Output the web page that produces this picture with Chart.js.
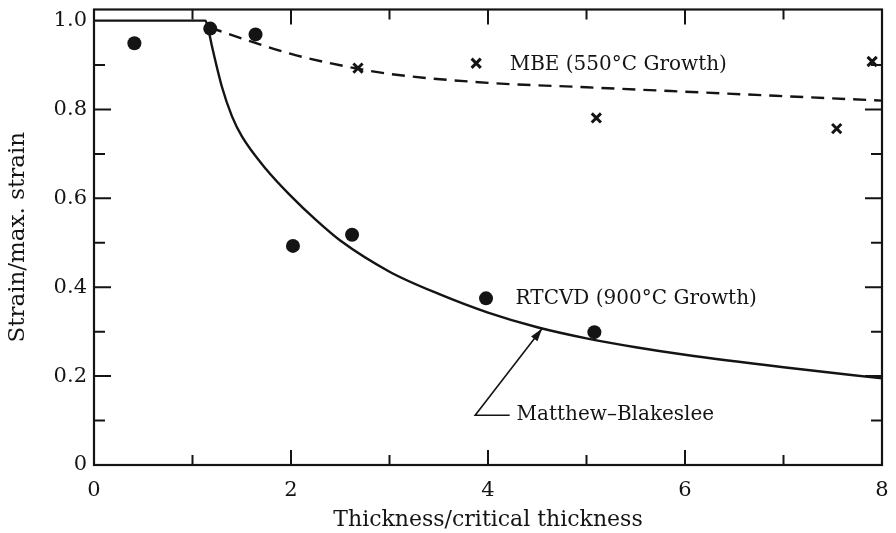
<!DOCTYPE html>
<html>
<head>
<meta charset="utf-8">
<script src="https://cdn.jsdelivr.net/npm/chart.js@4.4.1/dist/chart.umd.min.js"></script>
<style>
  html, body { margin: 0; padding: 0; background: #ffffff; }
  #wrap { width: 896px; height: 533px; }
</style>
</head>
<body>
<div id="wrap"><canvas id="c" width="896" height="533"></canvas></div>
<script>
// Matthews–Blakeslee equilibrium curve (strain ratio vs. thickness ratio)
const mbRatio  = [0, 1.13, 1.15, 1.2, 1.3, 1.4, 1.5, 1.75, 2.0, 2.25, 2.5, 3.0, 3.5, 4.0, 4.5, 5.0, 5.5, 6.0, 7.0, 8.0];
const mbStrain = [1.0, 1.0, 0.99, 0.94, 0.85, 0.785, 0.74, 0.665, 0.605, 0.552, 0.505, 0.435, 0.385, 0.343, 0.31, 0.285, 0.265, 0.248, 0.22, 0.195];

// dashed trend through the MBE samples
const mbeFitRatio  = [1.17, 1.5, 2.0, 2.6, 3.0, 4.0, 5.0, 6.0, 7.0, 8.0];
const mbeFitStrain = [0.985, 0.96, 0.925, 0.895, 0.88, 0.86, 0.85, 0.84, 0.83, 0.82];

// RTCVD (900 °C growth) samples
const rtcvdRatio  = [0.41, 1.18, 1.64, 2.02, 2.62, 3.98, 5.08];
const rtcvdStrain = [0.949, 0.982, 0.969, 0.493, 0.518, 0.375, 0.299];

// MBE (550 °C growth) samples
const mbeRatio  = [2.68, 3.88, 5.10, 7.54, 7.90];
const mbeStrain = [0.893, 0.904, 0.781, 0.757, 0.908];

// axis tick labels
const xTickValues = [0, 2, 4, 6, 8];
const xTickLabels = ['0', '2', '4', '6', '8'];
const yTickValues = [0, 0.2, 0.4, 0.6, 0.8, 1.0];
const yTickLabels = ['0', '0.2', '0.4', '0.6', '0.8', '1.0'];

// inward tick marks
const xMajorMarks = [2, 4, 6];
const xMinorMarks = [1, 3, 5, 7];
const yMajorMarks = [0.2, 0.4, 0.6, 0.8];
const yMinorMarks = [0.1, 0.3, 0.5, 0.7, 0.9];

const toPoints = (xs, ys) => xs.map((x, i) => ({ x: x, y: ys[i] }));
const INK = '#141414';
const FONT = '"DejaVu Serif", "Liberation Serif", serif';

const labelFor = (values, labels) => (v) => {
  const i = values.findIndex(t => Math.abs(t - v) < 1e-6);
  return i >= 0 ? labels[i] : '';
};

// frame, inward ticks and the curve annotations
const framePlugin = {
  id: 'frame',
  afterDatasetsDraw(chart) {
    const { ctx, chartArea: a, scales } = chart;
    const xs = scales.x, ys = scales.y;
    ctx.save();
    ctx.strokeStyle = INK;
    ctx.lineWidth = 2.2;
    ctx.strokeRect(a.left, a.top, a.right - a.left, a.bottom - a.top);

    ctx.lineWidth = 2;
    ctx.beginPath();
    const xMark = (v, len) => {
      const px = xs.getPixelForValue(v);
      ctx.moveTo(px, a.bottom); ctx.lineTo(px, a.bottom - len);
      ctx.moveTo(px, a.top); ctx.lineTo(px, a.top + len);
    };
    const yMark = (v, len) => {
      const py = ys.getPixelForValue(v);
      ctx.moveTo(a.left, py); ctx.lineTo(a.left + len, py);
      ctx.moveTo(a.right, py); ctx.lineTo(a.right - len, py);
    };
    xMajorMarks.forEach(v => xMark(v, 15));
    xMinorMarks.forEach(v => xMark(v, 10));
    yMajorMarks.forEach(v => yMark(v, 17));
    yMinorMarks.forEach(v => yMark(v, 11));
    ctx.stroke();

    // text labels
    ctx.fillStyle = INK;
    ctx.font = '20px ' + FONT;
    ctx.textAlign = 'left';
    ctx.textBaseline = 'middle';
    ctx.fillText('MBE (550\u00B0C Growth)', xs.getPixelForValue(4.22), ys.getPixelForValue(0.9));
    ctx.fillText('RTCVD (900\u00B0C Growth)', xs.getPixelForValue(4.28), ys.getPixelForValue(0.373));
    ctx.fillText('Matthew\u2013Blakeslee', xs.getPixelForValue(4.29), ys.getPixelForValue(0.112));

    // leader with arrowhead pointing at the M-B curve
    const ex = xs.getPixelForValue(4.22), ey = ys.getPixelForValue(0.112);
    const kx = xs.getPixelForValue(3.87), ky = ey;
    const tx = xs.getPixelForValue(4.55), ty = ys.getPixelForValue(0.307);
    ctx.lineWidth = 1.6;
    ctx.beginPath();
    ctx.moveTo(ex, ey); ctx.lineTo(kx, ky); ctx.lineTo(tx, ty);
    ctx.stroke();
    const ang = Math.atan2(ty - ky, tx - kx);
    const L = 13, W = 4;
    ctx.beginPath();
    ctx.moveTo(tx, ty);
    ctx.lineTo(tx - L * Math.cos(ang) + W * Math.sin(ang), ty - L * Math.sin(ang) - W * Math.cos(ang));
    ctx.lineTo(tx - L * Math.cos(ang) - W * Math.sin(ang), ty - L * Math.sin(ang) + W * Math.cos(ang));
    ctx.closePath();
    ctx.fill();
    ctx.restore();
  }
};

new Chart(document.getElementById('c'), {
  type: 'scatter',
  data: {
    datasets: [
      {
        label: 'Matthew–Blakeslee',
        data: toPoints(mbRatio, mbStrain),
        showLine: true,
        borderColor: INK,
        borderWidth: 2.4,
        pointRadius: 0,
        cubicInterpolationMode: 'monotone',
        fill: false
      },
      {
        label: 'MBE trend',
        data: toPoints(mbeFitRatio, mbeFitStrain),
        showLine: true,
        borderColor: INK,
        borderWidth: 2.4,
        borderDash: [13, 8],
        pointRadius: 0,
        cubicInterpolationMode: 'monotone',
        fill: false
      },
      {
        label: 'RTCVD (900°C Growth)',
        data: toPoints(rtcvdRatio, rtcvdStrain),
        showLine: false,
        pointStyle: 'circle',
        pointRadius: 7,
        backgroundColor: INK,
        borderColor: INK,
        borderWidth: 0,
        clip: false
      },
      {
        label: 'MBE (550°C Growth)',
        data: toPoints(mbeRatio, mbeStrain),
        showLine: false,
        pointStyle: 'crossRot',
        pointRadius: 6.5,
        borderColor: INK,
        borderWidth: 3,
        clip: false
      }
    ]
  },
  options: {
    responsive: false,
    animation: false,
    devicePixelRatio: 1,
    layout: { padding: { top: 6, right: 14, left: 0, bottom: 0 } },
    plugins: { legend: { display: false }, tooltip: { enabled: false } },
    scales: {
      x: {
        type: 'linear',
        min: 0, max: 8,
        grid: { display: false, drawTicks: false },
        border: { display: false },
        afterBuildTicks(scale) { scale.ticks = xTickValues.map(v => ({ value: v })); },
        ticks: {
          autoSkip: false,
          maxRotation: 0,
          padding: 13,
          color: INK,
          font: { family: FONT, size: 21 },
          callback: labelFor(xTickValues, xTickLabels)
        },
        title: {
          display: true,
          text: 'Thickness/critical thickness',
          color: INK,
          font: { family: FONT, size: 22 },
          padding: { top: 0, bottom: 0 }
        },
        afterFit(scale) {
          scale.height = 68;
          scale.paddingLeft = 0; scale.paddingRight = 0;
        }
      },
      y: {
        type: 'linear',
        min: 0, max: 1.025,
        grid: { display: false, drawTicks: false },
        border: { display: false },
        afterBuildTicks(scale) { scale.ticks = yTickValues.map(v => ({ value: v })); },
        ticks: {
          autoSkip: false,
          padding: 7,
          color: INK,
          font: { family: FONT, size: 21 },
          callback: labelFor(yTickValues, yTickLabels)
        },
        title: {
          display: true,
          text: 'Strain/max. strain',
          color: INK,
          font: { family: FONT, size: 23 },
          padding: { top: 4, bottom: 0 }
        },
        afterFit(scale) {
          scale.width = 94;
          scale.paddingTop = 0; scale.paddingBottom = 0;
        }
      }
    }
  },
  plugins: [framePlugin]
});
</script>
</body>
</html>
